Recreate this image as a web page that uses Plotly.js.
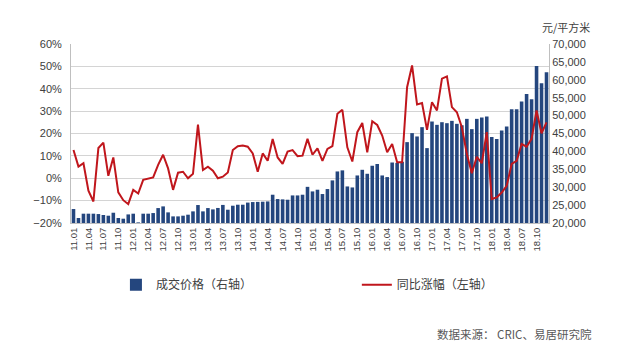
<!DOCTYPE html>
<html><head><meta charset="utf-8">
<script src="https://cdn.plot.ly/plotly-3.0.1.min.js"></script>
<style>html,body{margin:0;padding:0;background:#fff}</style>
</head><body><div id="chart" style="width:630px;height:355px"></div>
<script>
const months = [
"11.01","11.02","11.03","11.04","11.05","11.06","11.07","11.08","11.09","11.10","11.11","11.12",
"12.01","12.02","12.03","12.04","12.05","12.06","12.07","12.08","12.09","12.10","12.11","12.12",
"13.01","13.02","13.03","13.04","13.05","13.06","13.07","13.08","13.09","13.10","13.11","13.12",
"14.01","14.02","14.03","14.04","14.05","14.06","14.07","14.08","14.09","14.10","14.11","14.12",
"15.01","15.02","15.03","15.04","15.05","15.06","15.07","15.08","15.09","15.10","15.11","15.12",
"16.01","16.02","16.03","16.04","16.05","16.06","16.07","16.08","16.09","16.10","16.11","16.12",
"17.01","17.02","17.03","17.04","17.05","17.06","17.07","17.08","17.09","17.10","17.11","17.12",
"18.01","18.02","18.03","18.04","18.05","18.06","18.07","18.08","18.09","18.10","18.11","18.12"];
const tickLabels = ["11.01","11.04","11.07","11.10","12.01","12.04","12.07","12.10","13.01","13.04","13.07","13.10",
"14.01","14.04","14.07","14.10","15.01","15.04","15.07","15.10","16.01","16.04","16.07","16.10",
"17.01","17.04","17.07","17.10","18.01","18.04","18.07","18.10"];
// 成交价格 (元/平方米, 右轴)
const price = [
23900,21400,22600,22600,22600,22500,22230,22040,22870,21400,21200,22400,
22600,20170,22600,22600,22780,24170,24640,22970,21850,21850,22040,22320,
23250,25020,23250,24170,23800,24200,25050,23710,24830,25110,25110,25700,
25850,25900,25950,26030,27900,26690,26600,26500,27700,27700,27900,30100,
28820,29300,28090,29480,31900,34400,34700,30210,29930,33280,34860,33750,
35980,36450,33280,32830,36900,36800,37100,42590,45100,44170,46770,40920,
48350,47420,48160,47880,48530,47700,47300,49090,46220,49090,49460,49740,
43990,43430,45830,46950,51790,51790,53920,56060,54580,63870,59050,62110];
// 同比涨幅 (%, 左轴)
const yoy = [
12.6,5.2,6.7,-5.6,-10.4,13.5,15.9,1.1,9.3,-6.3,-9.8,-11.6,
-5.2,-6.8,-0.7,0,0.4,6,10.5,4.4,-5.2,2.5,2.9,0,
2,24,3.7,5.2,3.4,0,0.7,2.6,12.6,14.3,14.6,14.1,
11.1,2.9,11.1,7.8,17.5,9.3,6.4,11.9,12.6,9.9,10.1,17.6,
10.5,13.4,7.8,13.1,14.4,28.8,30.6,13.8,7.5,20.6,24.7,11.6,
25.5,23.8,19.1,11.6,15.3,7.1,7.1,40.7,50.4,33,33.6,21.6,
34,30.3,44.5,45.5,31.8,29.5,22.8,10.8,2.2,9.6,6.7,20.6,
-9.3,-8.6,-6.4,-3.4,6.4,7.8,15.3,14.1,17.6,30.3,20.1,25];
const seriesNames = ["成交价格（右轴）","同比涨幅（左轴）"];

const data = [
  {type:'bar', x:months, y:price, name:seriesNames[0], xaxis:'x', yaxis:'y', legend:'legend',
   marker:{color:'#24467e'}, hoverinfo:'x+y'},
  {type:'scatter', mode:'lines', x:months, y:yoy, name:seriesNames[1], xaxis:'x', yaxis:'y2', legend:'legend2',
   line:{color:'#c0161c', width:2}}
];
const tf = {family:'Liberation Sans, Arial, sans-serif', size:11, color:'#404040'};
const lf = {family:'Noto Sans CJK SC, sans-serif', size:12, color:'#404040'};
const layout = {
  width:630, height:355,
  margin:{l:71, r:81, t:44, b:132},
  paper_bgcolor:'#fff', plot_bgcolor:'rgba(0,0,0,0)',
  font:{family:'Liberation Sans, Noto Sans CJK SC, sans-serif', color:'#404040'},
  bargap:0.28,
  showlegend:true,
  legend:{orientation:'h', x:0.094, xanchor:'left', y:-0.345, yanchor:'middle', font:lf, bgcolor:'rgba(0,0,0,0)'},
  legend2:{orientation:'h', x:0.598, xanchor:'left', y:-0.345, yanchor:'middle', font:lf, bgcolor:'rgba(0,0,0,0)'},
  xaxis:{type:'category', range:[-0.5, months.length-0.5], tickvals:tickLabels, ticktext:tickLabels,
    tickangle:-90, tickfont:{family:'Liberation Sans, Arial, sans-serif', size:9.5, color:'#404040'},
    showline:true, linecolor:'#bfbfbf', linewidth:1, ticks:'', showgrid:false, zeroline:false},
  xaxis2:{overlaying:'x', anchor:'free', position:0.25, type:'linear', range:[-0.5, months.length-0.5],
    showline:true, linecolor:'#8c8c8c', linewidth:1, ticks:'outside', ticklen:3, tickcolor:'#8c8c8c',
    tick0:-0.5, dtick:1, showticklabels:false, showgrid:false, zeroline:false},
  yaxis:{side:'right', range:[20000,70000], dtick:5000, tickformat:',d', showgrid:false, zeroline:false,
    showline:true, linecolor:'#bfbfbf', ticks:'', tickfont:tf},
  yaxis2:{overlaying:'y', side:'left', range:[-20,60], dtick:10, ticksuffix:'%', showgrid:true,
    gridcolor:'#d4d4d4', gridwidth:1, zeroline:false, showline:true, linecolor:'#bfbfbf', ticks:'',
    ticklabelstandoff:6, tickfont:tf},
  annotations:[
    {text:'元/平方米', xref:'paper', yref:'paper', x:1.036, y:1.095, xanchor:'center', yanchor:'middle',
     showarrow:false, font:{family:'Noto Sans CJK SC, sans-serif', size:11, color:'#404040'}},
    {text:'数据来源： CRIC、易居研究院', xref:'paper', yref:'paper', x:1.094, y:-0.62, xanchor:'right', yanchor:'middle',
     showarrow:false, font:{family:'Noto Sans CJK SC, sans-serif', size:11.5, color:'#595959'}}
  ]
};
Plotly.newPlot('chart', data, layout, {displayModeBar:false, staticPlot:true});
</script></body></html>
